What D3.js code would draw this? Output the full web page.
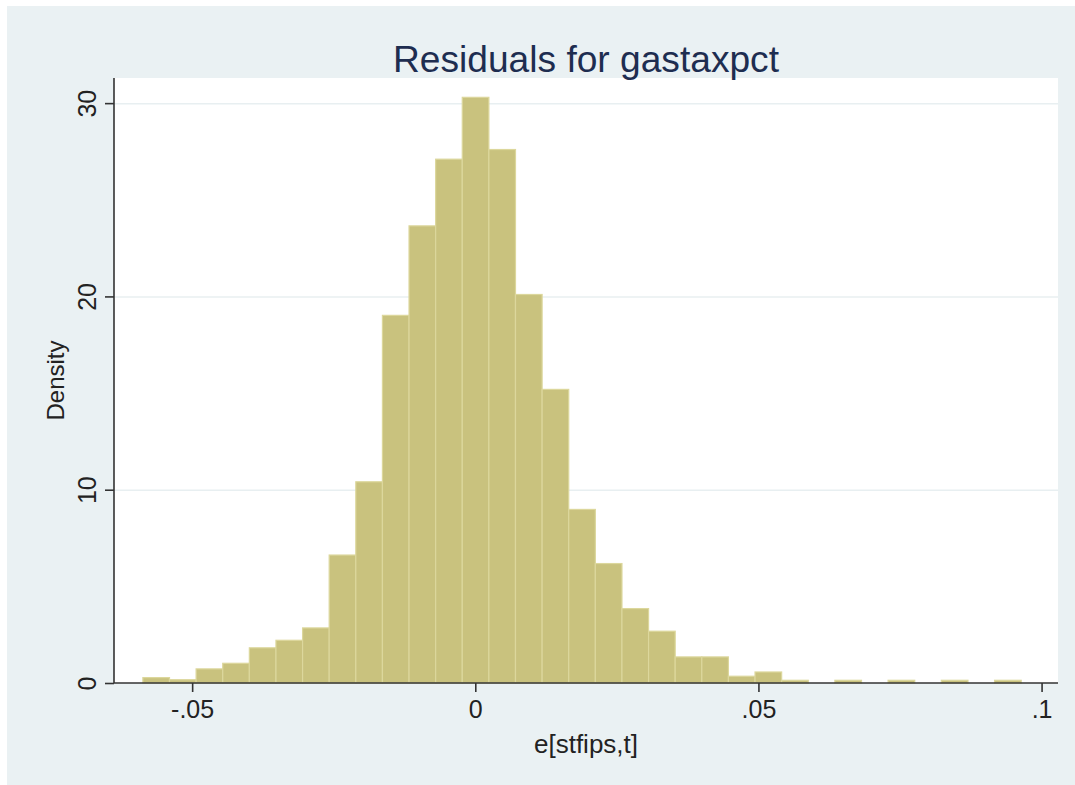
<!DOCTYPE html>
<html>
<head>
<meta charset="utf-8">
<script src="https://cdn.jsdelivr.net/npm/d3@7"></script>
<style>
  html, body { margin: 0; padding: 0; background: #ffffff; }
  svg { display: block; font-family: "Liberation Sans", Arial, Helvetica, sans-serif; }
</style>
</head>
<body>
<div id="chart"></div>
<script>
// histogram of residuals (density per bin)
const binStart = -0.0587;
const binWidth = 0.0047;
const density = [
  0.28, 0.17, 0.73, 1.02, 1.82, 2.21, 2.85, 6.62, 10.41, 19.02, 23.65,
  27.1, 30.3, 27.6, 20.1, 15.19, 8.98, 6.18, 3.85, 2.68, 1.35, 1.35,
  0.35, 0.57, 0.14, 0, 0.14, 0, 0.14, 0, 0.14, 0, 0.14
];
const xTicks = [-0.05, 0, 0.05, 0.1];
const xTickLabels = ['-.05', '0', '.05', '.1'];
const yTicks = [0, 10, 20, 30];
const titleText = 'Residuals for gastaxpct';
const xTitle = 'e[stfips,t]';
const yTitle = 'Density';

const W = 1075, H = 785;
const plot = { left: 114, right: 1058, top: 78, bottom: 683 };

const svg = d3.select('#chart')
  .append('svg')
  .attr('width', W)
  .attr('height', H);

// graph region background
svg.append('rect')
  .attr('x', 7).attr('y', 6)
  .attr('width', W - 7).attr('height', H - 6)
  .attr('fill', '#eaf1f3');

// plot region
svg.append('rect')
  .attr('x', plot.left).attr('y', plot.top)
  .attr('width', plot.right - plot.left).attr('height', plot.bottom - plot.top)
  .attr('fill', '#ffffff');

const x = d3.scaleLinear()
  .domain([-0.0638, 0.1029])
  .range([plot.left, plot.right]);

const y = d3.scaleLinear()
  .domain([0, 31.3])
  .range([plot.bottom, plot.top]);

// grid lines
svg.append('g')
  .attr('transform', `translate(${plot.left},0)`)
  .call(d3.axisLeft(y).tickValues(yTicks.filter(d => d > 0)).tickSize(-(plot.right - plot.left)).tickFormat(() => ''))
  .call(g => g.select('.domain').remove())
  .selectAll('line')
  .attr('stroke', '#e8eff1')
  .attr('stroke-width', 1.5);

// bars
const bins = density.map((d, i) => ({ x0: binStart + i * binWidth, x1: binStart + (i + 1) * binWidth, v: d }));

svg.append('g')
  .selectAll('rect')
  .data(bins.filter(d => d.v > 0))
  .enter()
  .append('rect')
  .attr('x', d => x(d.x0))
  .attr('y', d => y(d.v))
  .attr('width', d => x(d.x1) - x(d.x0))
  .attr('height', d => y(0) - y(d.v))
  .attr('fill', '#c9c27e')
  .attr('stroke', '#dcd79c')
  .attr('stroke-width', 1.2);

// x axis
const xAxis = svg.append('g')
  .attr('transform', `translate(0,${plot.bottom})`)
  .call(d3.axisBottom(x).tickValues(xTicks).tickSize(9).tickSizeOuter(0).tickPadding(8)
    .tickFormat((d, i) => xTickLabels[i]));
xAxis.select('.domain')
  .attr('d', `M${plot.left},0H${plot.right}`)
  .attr('stroke', '#333')
  .attr('stroke-width', 1.6);
xAxis.selectAll('line').attr('stroke', '#333').attr('stroke-width', 1.6);
xAxis.selectAll('text')
  .style('font-size', '25px')
  .style('fill', '#222');

// y axis (vertical labels)
const yAxis = svg.append('g')
  .attr('transform', `translate(${plot.left},0)`)
  .call(d3.axisLeft(y).tickValues(yTicks).tickSize(9).tickSizeOuter(0).tickFormat(d3.format('d')));
yAxis.select('.domain')
  .attr('d', `M0,${plot.top}V${plot.bottom}`)
  .attr('stroke', '#333')
  .attr('stroke-width', 1.6);
yAxis.selectAll('line').attr('stroke', '#333').attr('stroke-width', 1.6);
yAxis.selectAll('text')
  .attr('x', 0).attr('y', 0).attr('dy', null)
  .attr('transform', 'translate(-18,0) rotate(-90)')
  .attr('text-anchor', 'middle')
  .style('font-size', '25px')
  .style('fill', '#222');

// title
svg.append('text')
  .attr('x', (plot.left + plot.right) / 2)
  .attr('y', 72)
  .attr('text-anchor', 'middle')
  .attr('textLength', 386)
  .attr('lengthAdjust', 'spacingAndGlyphs')
  .style('font-size', '36px')
  .style('fill', '#1e2d50')
  .text(titleText);

// x axis title
svg.append('text')
  .attr('x', (plot.left + plot.right) / 2)
  .attr('y', 753)
  .attr('text-anchor', 'middle')
  .style('font-size', '26px')
  .style('fill', '#222')
  .text(xTitle);

// y axis title
svg.append('text')
  .attr('transform', `translate(64,${(plot.top + plot.bottom) / 2}) rotate(-90)`)
  .attr('text-anchor', 'middle')
  .style('font-size', '24px')
  .style('fill', '#222')
  .text(yTitle);
</script>
</body>
</html>
